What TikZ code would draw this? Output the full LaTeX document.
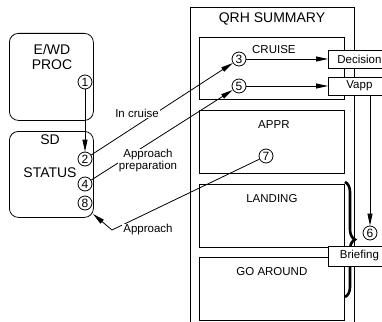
\documentclass[tikz,border=0pt]{standalone}
\usepackage{fontspec}
\setmainfont{Liberation Sans}
\usetikzlibrary{arrows.meta,positioning,decorations.pathreplacing}

\begin{document}
\begin{tikzpicture}[x=1pt,y=-1pt,line width=0.8pt,
    arr/.style={-{Triangle[length=12pt,width=5pt]}},
    num/.style={circle,draw,fill=white,minimum size=14pt,inner sep=0pt,font=\fontsize{12}{12}\selectfont},
    procbox/.style={draw,rounded corners=9pt,minimum width=84pt,minimum height=87pt,anchor=north west},
    panel/.style={draw,minimum width=145pt,minimum height=63pt},
    tag/.style={draw,fill=white,minimum width=62pt,minimum height=18pt,inner sep=0pt,anchor=west,font=\fontsize{11.5}{12}\selectfont},
    big/.style={font=\fontsize{14}{15}\selectfont,align=center},
    small/.style={font=\fontsize{11.5}{12}\selectfont,align=center},
    note/.style={small,fill=white,inner sep=1pt}]
  \useasboundingbox (0,0) rectangle (382,321);
  \clip (0,0) rectangle (382,321);
  % QRH summary panel
  \draw (190,330) |- (354,7) -- (354,330);
  \node[big] (qrh) at (272,19) {QRH SUMMARY};
  \node[panel,anchor=north west,minimum height=62pt] (cruise) at (199,37) {};
  \node[panel,below=10pt of cruise] (appr) {};
  \node[panel,below=10pt of appr] (landing) {};
  \node[panel,below=10pt of landing] (goaround) {};
  \node[small] (cruisetxt) at ([xshift=2pt,yshift=-13pt]cruise.north) {CRUISE};
  \node[small] (apprtxt) at ([xshift=2pt,yshift=-15pt]appr.north) {APPR};
  \node[small] (landingtxt) at ([yshift=-15pt]landing.north) {LANDING};
  \node[small] (goaroundtxt) at ([yshift=-14pt]goaround.north) {GO AROUND};
  \draw[line width=2.6pt,decorate,decoration={brace,amplitude=10pt}] (345,182) -- (345,297);
  % left boxes
  \node[procbox] (ewd) at (9,33) {};
  \node[procbox,minimum height=86pt] (sd) at (9,131) {};
  \node[big] (ewdtxt) at (52,57) {E/WD\\PROC};
  \node[big] (sdtxt) at (50,140) {SD};
  \node[big] (statustxt) at (50,173) {STATUS};
  % steps
  \node[num] (n1) at (85,82) {1};
  \node[num] (n2) at (85,159) {2};
  \node[num] (n4) at (85,184) {4};
  \node[num] (n8) at (85,203) {8};
  \node[num] (n3) at (239,59) {3};
  \node[num] (n5) at (239,86) {5};
  \node[num] (n7) at (266,156) {7};
  \node[num] (n6) at (370,233) {6};
  \node[tag] (decision) at (328,59) {Decision};
  \node[tag] (vapp) at (328,86) {Vapp};
  \node[tag,minimum height=20pt] (briefing) at (328,256) {Briefing};
  \coordinate (bend) at (112,230);
  \coordinate (sdcorner) at (93,214);
  \draw[arr] (n1) -- (n2);
  \draw[arr] (n2) -- (n3);
  \draw[arr] (n4) -- (n5);
  \draw[arr] (n3) -- (decision);
  \draw[arr] (n5) -- (vapp);
  \draw[arr] (vapp.south -| n6) -- (n6);
  \draw[arr] (n7) -- (bend) -- (sdcorner);
  \node[note] (cruiselbl) at (137,113) {In cruise};
  \node[note] (preplbl) at (148,161) {Approach\\preparation};
  \node[note] (applbl) at (148,230) {Approach};
\end{tikzpicture}
\end{document}
